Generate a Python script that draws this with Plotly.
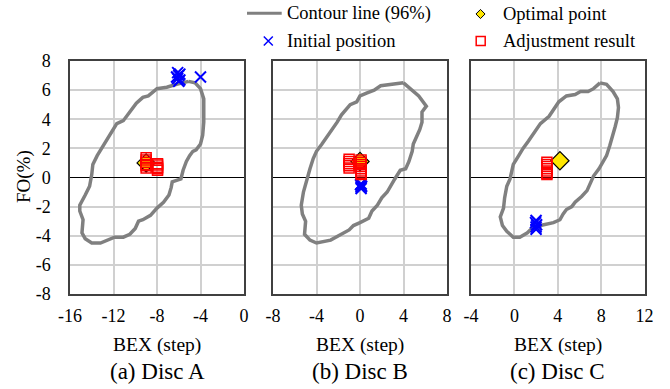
import plotly.graph_objects as go

# ---------------- data ----------------
panel_titles = ["(a) Disc A", "(b) Disc B", "(c) Disc C"]
x_ranges = [[-16, 0], [-8, 8], [-4, 12]]
x_tickvals = [[-16, -12, -8, -4, 0], [-8, -4, 0, 4, 8], [-4, 0, 4, 8, 12]]
x_ticktext = [["-16", "-12", "-8", "-4", "0"], ["-8", "-4", "0", "4", "8"], ["-4", "0", "4", "8", "12"]]
y_range = [-8, 8]
y_tickvals = [-8, -6, -4, -2, 0, 2, 4, 6, 8]
y_ticktext = ["-8", "-6", "-4", "-2", "0", "2", "4", "6", "8"]

contour_a_x = [-5.1, -4.5, -4.0, -3.7, -3.7, -3.7, -3.8, -4.0, -4.4, -4.7, -5.0, -5.3, -5.6, -5.8, -6.2, -6.6, -6.7, -6.9, -7.4, -8.0, -8.6, -9.3, -9.7, -10.0, -10.5, -11.1, -11.9, -12.6, -13.2, -14.0, -14.6, -14.9, -14.8, -15.1, -15.1, -14.6, -14.2, -14.0, -13.9, -13.5, -13.1, -12.6, -12.2, -11.7, -11.1, -10.5, -9.9, -9.3, -8.8, -8.0, -7.1, -6.2, -5.6, -5.1]
contour_a_y = [6.6, 6.5, 6.1, 5.4, 4.8, 3.8, 2.9, 2.3, 1.9, 1.8, 1.5, 1.1, 0.5, -0.1, -0.2, -0.3, -0.7, -1.2, -1.7, -2.1, -2.6, -2.9, -3.0, -3.5, -3.9, -4.1, -4.1, -4.3, -4.5, -4.5, -4.2, -3.8, -2.9, -2.3, -1.9, -1.2, -0.6, 0.2, 0.9, 1.5, 2.0, 2.6, 3.1, 3.7, 3.9, 4.5, 5.1, 5.5, 5.6, 6.1, 6.2, 6.4, 6.5, 6.6]

contour_b_x = [4.0, 4.6, 5.4, 6.1, 5.7, 5.7, 5.5, 5.2, 4.9, 4.8, 4.5, 4.2, 3.7, 3.2, 2.9, 2.5, 2.0, 1.6, 1.1, 0.8, 0.0, -0.6, -1.0, -1.8, -2.7, -4.0, -4.6, -5.1, -5.0, -5.3, -5.4, -5.2, -4.9, -4.6, -4.3, -4.0, -3.5, -3.0, -2.6, -2.1, -1.7, -1.1, -0.9, -0.3, 0.0, 0.6, 1.3, 1.9, 2.8, 4.0]
contour_b_y = [6.5, 6.1, 5.6, 4.9, 4.5, 3.8, 3.3, 2.8, 2.3, 1.8, 1.1, 0.6, 0.5, -0.1, -0.5, -1.0, -1.4, -1.9, -2.3, -2.8, -3.1, -3.3, -3.6, -3.9, -4.3, -4.5, -4.3, -3.9, -3.0, -2.5, -1.9, -1.0, -0.1, 0.6, 1.3, 1.8, 2.3, 2.8, 3.3, 3.8, 4.3, 4.8, 5.0, 5.2, 5.6, 5.8, 6.0, 6.3, 6.4, 6.5]

contour_c_x = [7.9, 8.5, 9.1, 9.5, 9.6, 9.5, 9.3, 9.1, 8.8, 8.5, 8.2, 7.8, 7.3, 7.0, 6.7, 6.2, 5.6, 5.3, 4.8, 4.5, 4.2, 3.6, 3.0, 2.4, 1.6, 1.2, 0.5, -0.1, -0.7, -1.1, -1.3, -1.0, -0.9, -0.7, -0.4, -0.1, 0.4, 0.8, 1.3, 1.8, 2.4, 3.2, 3.6, 4.1, 4.8, 5.6, 6.1, 6.8, 7.3, 7.9]
contour_c_y = [6.5, 6.4, 5.9, 5.4, 4.8, 4.1, 3.5, 2.9, 2.2, 1.5, 1.1, 0.6, 0.1, -0.4, -0.9, -1.3, -1.7, -2.0, -2.2, -2.5, -2.9, -3.1, -3.2, -3.3, -3.5, -3.8, -4.1, -4.1, -3.7, -3.3, -2.7, -2.1, -1.4, -0.6, -0.1, 0.9, 1.5, 2.0, 2.5, 3.0, 3.7, 4.2, 4.6, 5.2, 5.6, 5.7, 5.9, 5.9, 6.1, 6.5]

init_a_x = [-6.1, -6.0, -6.1, -5.9, -6.0, -5.9, -6.2, -4.0]
init_a_y = [7.2, 7.0, 6.8, 6.7, 6.6, 7.1, 6.9, 6.9]
init_b_x = [0.1, 0.05, 0.15, 0.1, 0.1]
init_b_y = [-0.45, -0.5, -0.6, -0.65, -0.75]
init_c_x = [2.0, 1.95, 2.05, 2.0, 2.0]
init_c_y = [-2.95, -3.1, -3.25, -3.4, -3.55]

opt_a = [-9.0, 1.0]
opt_b = [0.0, 1.1]
opt_c = [4.2, 1.15]

adj_a_x = [-9.0, -9.0, -9.0, -9.0, -9.0, -9.0, -7.95, -7.95, -7.95, -7.95, -7.95]
adj_a_y = [1.35, 1.2, 1.05, 0.9, 0.8, 0.65, 0.95, 0.85, 0.7, 0.6, 0.5]
adj_b_x = [-1.0, -1.0, -1.0, -1.0, -1.0, 0.1, 0.1, 0.1, 0.1, 0.1, 0.1, 0.1, 0.1]
adj_b_y = [1.25, 1.1, 0.95, 0.8, 0.65, 1.2, 1.05, 0.9, 0.75, 0.6, 0.45, 0.3, 0.2]
adj_c_x = [3.0, 3.0, 3.0, 3.0, 3.0, 3.0, 3.0]
adj_c_y = [1.05, 0.9, 0.75, 0.6, 0.45, 0.3, 0.2]

legend_labels = ["Contour line (96%)", "Initial position", "Optimal point", "Adjustment result"]

# ---------------- style ----------------
W, H = 670, 389
FONT = "Liberation Serif"
GRAY = "#808080"
BLUE = "#0000FF"
RED = "#FF0000"
YELLOW = "#FFE600"

panel_px = [(70, 244), (273, 447), (471, 644.5)]
top_px, bot_px = 61, 294

contours = [(contour_a_x, contour_a_y), (contour_b_x, contour_b_y), (contour_c_x, contour_c_y)]
inits = [(init_a_x, init_a_y), (init_b_x, init_b_y), (init_c_x, init_c_y)]
opts = [opt_a, opt_b, opt_c]
adjs = [(adj_a_x, adj_a_y), (adj_b_x, adj_b_y), (adj_c_x, adj_c_y)]

fig = go.Figure()
layout = {}
for i in range(3):
    n = "" if i == 0 else str(i + 1)
    xa, ya = "x" + n, "y" + n
    fig.add_trace(go.Scatter(x=contours[i][0], y=contours[i][1], mode="lines",
                             line=dict(color=GRAY, width=3.5), xaxis=xa, yaxis=ya,
                             showlegend=False, hoverinfo="skip"))
    fig.add_trace(go.Scatter(x=inits[i][0], y=inits[i][1], mode="markers",
                             marker=dict(symbol="x-thin", size=11, line=dict(color=BLUE, width=2)),
                             xaxis=xa, yaxis=ya, showlegend=False))
    fig.add_trace(go.Scatter(x=[opts[i][0]], y=[opts[i][1]], mode="markers",
                             marker=dict(symbol="diamond", size=14, color=YELLOW,
                                         line=dict(color="black", width=1.2)),
                             xaxis=xa, yaxis=ya, showlegend=False))
    fig.add_trace(go.Scatter(x=adjs[i][0], y=adjs[i][1], mode="markers",
                             marker=dict(symbol="square-open", size=10, color=RED,
                                         line=dict(color=RED, width=1.5)),
                             xaxis=xa, yaxis=ya, showlegend=False))
    x0, x1 = panel_px[i]
    layout["xaxis" + n] = dict(domain=[x0 / W, x1 / W], range=x_ranges[i],
                               tickmode="array", tickvals=x_tickvals[i], ticktext=x_ticktext[i],
                               showgrid=True, gridcolor="#d0d0d0", gridwidth=1.5,
                               zeroline=False, showline=True, mirror=True,
                               linecolor="#404040", linewidth=1.5, ticks="",
                               ticklabelstandoff=5, automargin=False,
                               tickfont=dict(family=FONT, size=18, color="black"),
                               anchor=ya, fixedrange=True)
    layout["yaxis" + n] = dict(domain=[1 - bot_px / H, 1 - top_px / H], range=y_range,
                               tickmode="array", tickvals=y_tickvals, ticktext=y_ticktext,
                               showgrid=True, gridcolor="#d0d0d0", gridwidth=1.5,
                               zeroline=True, zerolinecolor="black", zerolinewidth=1.3,
                               showline=True, mirror=True, linecolor="#404040", linewidth=1.5,
                               ticks="", showticklabels=(i == 0), ticklabelstandoff=14,
                               automargin=False,
                               tickfont=dict(family=FONT, size=18, color="black"),
                               anchor=xa, fixedrange=True)

# overlay pixel axis for legend and captions
layout["xaxis4"] = dict(domain=[0, 1], range=[0, W], visible=False, anchor="y4",
                        fixedrange=True, automargin=False)
layout["yaxis4"] = dict(domain=[0, 1], range=[H, 0], visible=False, anchor="x4",
                        fixedrange=True, automargin=False)

fig.add_trace(go.Scatter(x=[247, 281.7], y=[13.3, 13.3], mode="lines", line=dict(color=GRAY, width=3),
                         xaxis="x4", yaxis="y4", showlegend=False, hoverinfo="skip"))
fig.add_trace(go.Scatter(x=[268.3], y=[41], mode="markers",
                         marker=dict(symbol="x-thin", size=9, line=dict(color=BLUE, width=1.5)),
                         xaxis="x4", yaxis="y4", showlegend=False, hoverinfo="skip"))
fig.add_trace(go.Scatter(x=[480.5], y=[14], mode="markers",
                         marker=dict(symbol="diamond", size=7, color=YELLOW, line=dict(color="black", width=1)),
                         xaxis="x4", yaxis="y4", showlegend=False, hoverinfo="skip"))
fig.add_trace(go.Scatter(x=[480.7], y=[41], mode="markers",
                         marker=dict(symbol="square-open", size=9, color=RED, line=dict(color=RED, width=1.5)),
                         xaxis="x4", yaxis="y4", showlegend=False, hoverinfo="skip"))

annots = []
leg_pos = [(284.5, 13.5), (284.5, 41), (500.7, 13.5), (500.7, 41)]
for lab, (lx, ly) in zip(legend_labels, leg_pos):
    annots.append(dict(x=lx, y=ly, xref="x4", yref="y4", text=lab, showarrow=False,
                       xanchor="left", yanchor="middle", font=dict(family=FONT, size=18.5, color="black")))
annots.append(dict(x=24, y=177, xref="x4", yref="y4", text="FO(%)", textangle=-90, showarrow=False,
                   xanchor="center", yanchor="middle", font=dict(family=FONT, size=19, color="black")))
for i in range(3):
    cx = (panel_px[i][0] + panel_px[i][1]) / 2
    annots.append(dict(x=cx, y=345, xref="x4", yref="y4", text="BEX (step)", showarrow=False,
                       xanchor="center", yanchor="middle", font=dict(family=FONT, size=19.5, color="black")))
    annots.append(dict(x=cx, y=371, xref="x4", yref="y4", text=panel_titles[i], showarrow=False,
                       xanchor="center", yanchor="middle", font=dict(family=FONT, size=23, color="black")))

fig.update_layout(width=W, height=H, margin=dict(l=0, r=0, t=0, b=0),
                  paper_bgcolor="white", plot_bgcolor="rgba(0,0,0,0)",
                  showlegend=False, annotations=annots, **layout)

fig.write_html("out.html", config={"displayModeBar": False},
               post_script="document.body.style.margin='0px';document.body.style.overflow='hidden';")
